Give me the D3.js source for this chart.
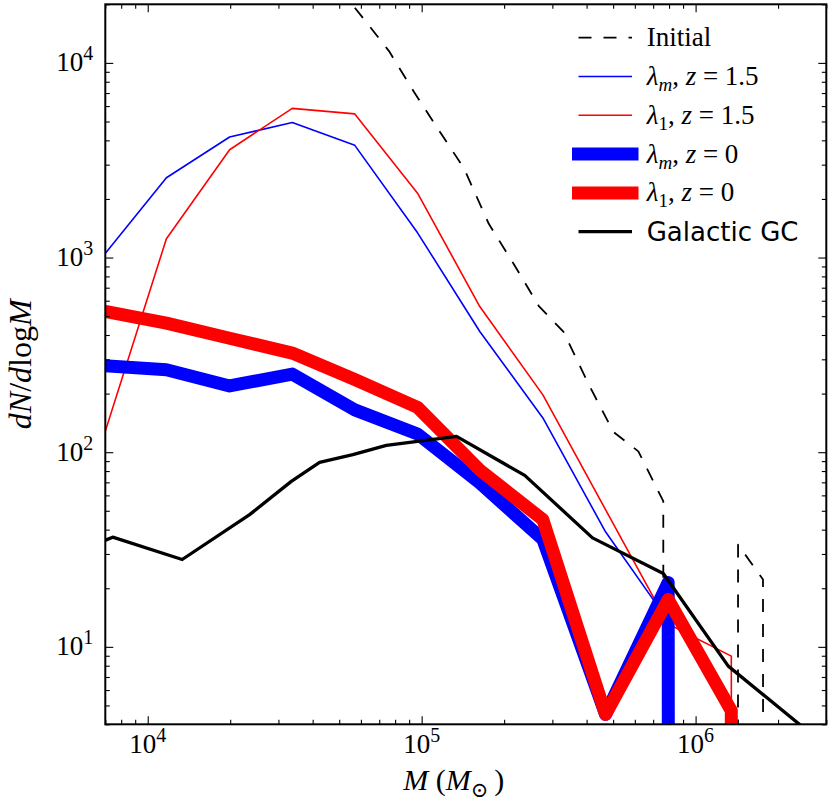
<!DOCTYPE html>
<html>
<head>
<meta charset="utf-8">
<script src="https://cdn.jsdelivr.net/npm/d3@7"></script>
<style>
  body { margin: 0; background: #fff; }
  svg { display: block; }
  .serif { font-family: "Liberation Serif", "DejaVu Serif", serif; }
  .sans { font-family: "DejaVu Sans", sans-serif; }
</style>
</head>
<body>
<div id="chart"></div>
<script>
// Model mass bins (Msun) shared by the four model curves
const modelMass = [6.92e3, 1.17e4, 1.99e4, 3.37e4, 5.70e4, 9.66e4, 1.63e5, 2.77e5, 4.69e5, 7.94e5, 1.35e6, 2.28e6];
const lamM_z15 = [1030, 2570, 4160, 4940, 3770, 1340, 417, 150, 39, 13.6, 0];
const lam1_z15 = [122, 1250, 3580, 5840, 5470, 2140, 560, 197, 50.7, 13.1, 8.96, 0];
const lamM_z0 = [278, 265, 219, 252, 165, 124, 69.5, 35.6, 4.5, 21.4, 0];
const lam1_z0 = [530, 460, 385, 323, 236, 170, 81, 45, 4.5, 17.5, 4.7, 0];

// Initial mass function, finer bins
const initMass = [5.00e4, 6.17e4, 7.60e4, 9.38e4, 1.156e5, 1.426e5, 1.758e5, 2.168e5, 2.673e5, 3.296e5,
                  4.064e5, 5.012e5, 6.180e5, 7.621e5, 9.397e5, 1.159e6, 1.429e6, 1.762e6, 2.173e6];
const initN = [24200, 16700, 11500, 7080, 4500, 2880, 1490, 927, 565, 415, 224, 127, 101, 56, 0, 0, 33.5, 22.2, 0];

// Galactic globular clusters
const gcMass = [5.0e3, 7.45e3, 1.336e4, 2.355e4, 3.343e4, 4.239e4, 5.608e4, 7.43e4, 1.34e5, 2.378e5, 4.203e5, 7.62e5, 1.316e6, 3.6e6];
const gcN = [29, 36.6, 28.1, 47.8, 70.8, 88.7, 97.1, 108.4, 120.5, 76.0, 36.3, 23.8, 7.96, 2.5];

const xMajor = [1e4, 1e5, 1e6];
const xExp = ["4", "5", "6"];
const yMajor = [1e1, 1e2, 1e3, 1e4];
const yExp = ["1", "2", "3", "4"];

// Layout
const W = 831, H = 809;
const margin = { top: 4.3, left: 105.3, right: 4.7, bottom: 84.7 };
const width = W - margin.left - margin.right;
const height = H - margin.top - margin.bottom;

const svg = d3.select("#chart").append("svg")
    .attr("width", W)
    .attr("height", H);

const x = d3.scaleLog().domain([7e3, 3e6]).range([0, width]);
const y = d3.scaleLog().domain([4, 2e4]).range([height, 0]);

const g = svg.append("g")
    .attr("transform", `translate(${margin.left},${margin.top})`);

g.append("clipPath").attr("id", "plot-clip")
    .append("rect").attr("width", width).attr("height", height);

// zero counts are clipped to a tiny value (like matplotlib's log clip)
const line = d3.line()
    .x(d => x(d[0]))
    .y(d => y(Math.max(d[1], 1e-300)));

const series = [
    { mass: initMass, n: initN, color: "#000", lw: 1.8, dash: "13,12", cap: "butt" },
    { mass: modelMass, n: lamM_z15, color: "#0000ff", lw: 1.6, cap: "butt" },
    { mass: modelMass, n: lam1_z15, color: "#ff0000", lw: 1.6, cap: "butt" },
    { mass: modelMass, n: lamM_z0, color: "#0000ff", lw: 13, cap: "square" },
    { mass: modelMass, n: lam1_z0, color: "#ff0000", lw: 13, cap: "square" },
    { mass: gcMass, n: gcN, color: "#000", lw: 3.3, cap: "butt" }
];

const plot = g.append("g").attr("clip-path", "url(#plot-clip)");
series.forEach(s => {
    plot.append("path")
        .datum(s.n.map((v, i) => [s.mass[i], v]))
        .attr("d", line)
        .attr("fill", "none")
        .attr("stroke", s.color)
        .attr("stroke-width", s.lw)
        .attr("stroke-linejoin", "round")
        .attr("stroke-linecap", s.cap)
        .attr("stroke-dasharray", s.dash || null);
});

// Ticks on all four sides, pointing inward
const xMinor = x.ticks().filter(t => !xMajor.includes(t));
const yMinor = y.ticks().filter(t => !yMajor.includes(t));

function tickAxis(axisFn, scale, values, size) {
    return axisFn(scale).tickValues(values).tickSize(-size).tickFormat("");
}
const axes = [
    [d3.axisBottom, x, `translate(0,${height})`],
    [d3.axisTop, x, "translate(0,0)"],
    [d3.axisLeft, y, "translate(0,0)"],
    [d3.axisRight, y, `translate(${width},0)`]
];
axes.forEach(([fn, sc, tr]) => {
    const major = sc === x ? xMajor : yMajor;
    const minor = sc === x ? xMinor : yMinor;
    [[major, 8], [minor, 4.5]].forEach(([vals, size]) => {
        const a = g.append("g").attr("transform", tr)
            .call(tickAxis(fn, sc, vals, size));
        a.select(".domain").remove();
        a.selectAll(".tick line").attr("stroke", "#000").attr("stroke-width", 1.1);
    });
});

g.append("rect")
    .attr("width", width).attr("height", height)
    .attr("fill", "none").attr("stroke", "#000").attr("stroke-width", 2);

// Tick labels (10^n)
xMajor.forEach((v, i) => {
    const t = g.append("text").attr("class", "serif")
        .attr("x", x(v)).attr("y", height + 29)
        .attr("text-anchor", "middle").attr("font-size", 27);
    t.append("tspan").text("10");
    t.append("tspan").attr("dy", -11).attr("font-size", 20).text(xExp[i]);
});
yMajor.forEach((v, i) => {
    const t = g.append("text").attr("class", "serif")
        .attr("x", -12).attr("y", y(v) + 8.5)
        .attr("text-anchor", "end").attr("font-size", 27);
    t.append("tspan").text("10");
    t.append("tspan").attr("dy", -11).attr("font-size", 20).text(yExp[i]);
});

// Axis labels
const xl = svg.append("text").attr("class", "serif")
    .attr("x", margin.left + width / 2 - 12).attr("y", 790)
    .attr("text-anchor", "middle").attr("font-size", 30);
xl.append("tspan").attr("font-style", "italic").text("M");
xl.append("tspan").text(" (");
xl.append("tspan").attr("font-style", "italic").text("M");
xl.append("tspan").attr("dy", 7).attr("font-size", 21).text("\u2299");
xl.append("tspan").attr("dy", -7).text("\u2009)");

const yl = svg.append("text").attr("class", "serif")
    .attr("transform", `translate(31,${margin.top + height / 2}) rotate(-90)`)
    .attr("text-anchor", "middle").attr("font-size", 32);
yl.append("tspan").attr("font-style", "italic").text("dN");
yl.append("tspan").text("/");
yl.append("tspan").attr("font-style", "italic").text("d");
yl.append("tspan").text("log");
yl.append("tspan").attr("font-style", "italic").text("M");

// Legend
const legendLabels = ["Initial", ["m", "1.5"], ["1", "1.5"], ["m", "0"], ["1", "0"], "Galactic GC"];
const leg = svg.append("g");
series.forEach((s, i) => {
    const cy = 37.7 + 38.8 * i;
    leg.append("line")
        .attr("x1", 578.5).attr("x2", 632)
        .attr("y1", cy).attr("y2", cy)
        .attr("stroke", s.color)
        .attr("stroke-width", s.lw)
        .attr("stroke-linecap", s.cap)
        .attr("stroke-dasharray", s.dash || null);
    const lab = legendLabels[i];
    const t = leg.append("text").attr("x", 646.7).attr("y", cy + 8.5).attr("font-size", 27);
    if (typeof lab === "string") {
        t.attr("class", i === 0 ? "serif" : "sans").text(lab);
        if (i !== 0) t.attr("y", cy + 9.5).attr("font-size", 26);
    } else {
        t.attr("class", "serif");
        t.append("tspan").attr("font-style", "italic").text("\u03bb");
        t.append("tspan").attr("dy", 6).attr("font-size", 19)
            .attr("font-style", lab[0] === "m" ? "italic" : "normal").text(lab[0]);
        t.append("tspan").attr("dy", -6).text(", ");
        t.append("tspan").attr("font-style", "italic").text("z");
        t.append("tspan").text(" = " + lab[1]);
    }
});
</script>
</body>
</html>
